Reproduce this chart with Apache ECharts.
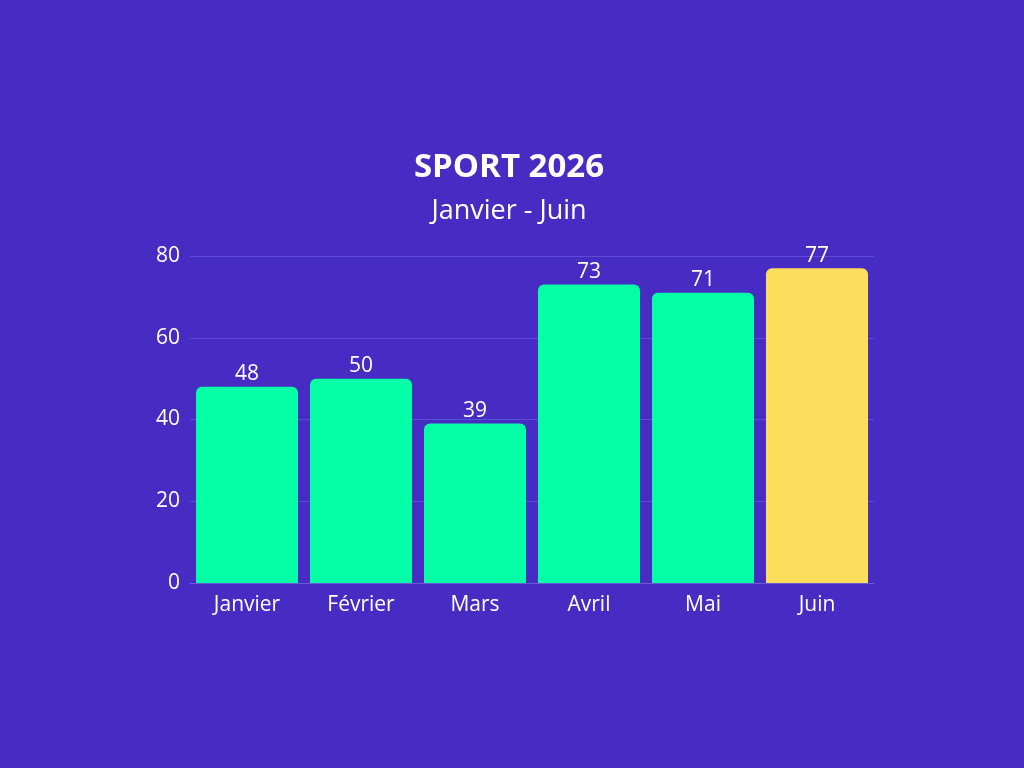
<!DOCTYPE html>
<html>
<head>
<meta charset="utf-8">
<script src="https://cdn.jsdelivr.net/npm/echarts@6/dist/echarts.min.js"></script>
<style>
  html, body { margin: 0; padding: 0; background: #462cc3; }
  #main { width: 1024px; height: 768px; }
</style>
</head>
<body>
<div id="main"></div>
<script>
// données du graphique
var months = ['Janvier', 'Février', 'Mars', 'Avril', 'Mai', 'Juin'];
var values = [48, 50, 39, 73, 71, 77];
var highlight = ['no', 'no', 'no', 'no', 'no', 'yes'];
var yTicks = [0, 20, 40, 60, 80];

var green = '#05ffa6';
var yellow = '#ffdd5c';

var chart = echarts.init(document.getElementById('main'));
chart.setOption({
  backgroundColor: '#462cc3',
  textStyle: { fontFamily: 'Open Sans' },
  title: {
    text: 'SPORT 2026',
    subtext: 'Janvier - Juin',
    left: 504,
    textAlign: 'center',
    top: 146,
    itemGap: 14,
    textStyle: { color: '#fff', fontSize: 33, fontWeight: 'bold', fontFamily: 'Open Sans' },
    subtextStyle: { color: '#fff', fontSize: 27, fontFamily: 'Open Sans' }
  },
  grid: { left: 190, right: 150, top: 256, bottom: 185 },
  xAxis: {
    type: 'category',
    data: months,
    axisTick: { show: false },
    axisLine: { lineStyle: { color: '#6a5ad8', width: 1 } },
    axisLabel: { color: '#fff', fontSize: 21, margin: 12 }
  },
  yAxis: {
    type: 'value',
    min: yTicks[0],
    max: yTicks[yTicks.length - 1],
    interval: yTicks[1] - yTicks[0],
    axisLabel: { color: '#fff', fontSize: 21, margin: 10 },
    axisLine: { show: false },
    splitLine: { lineStyle: { color: '#5f4cd6', width: 1 } }
  },
  series: [{
    type: 'bar',
    barCategoryGap: '10.5%',
    data: values.map(function (v, i) {
      return { value: v, itemStyle: { color: highlight[i] === 'yes' ? yellow : green } };
    }),
    itemStyle: { borderRadius: [6, 6, 0, 0] },
    label: { show: true, position: 'top', color: '#fff', fontSize: 21, distance: 2 }
  }]
});
</script>
</body>
</html>
